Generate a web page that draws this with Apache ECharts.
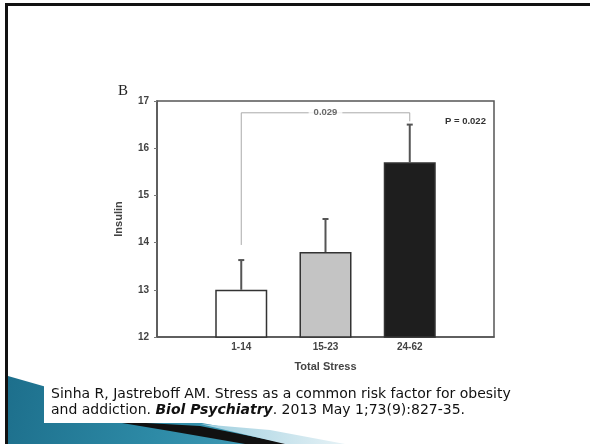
<!DOCTYPE html>
<html>
<head>
<meta charset="utf-8">
<script src="https://cdn.jsdelivr.net/npm/echarts@6/dist/echarts.min.js"></script>
<style>
  html, body { margin: 0; padding: 0; background: #fff; }
  #chart { width: 590px; height: 444px; }
</style>
</head>
<body>
<div id="chart"></div>
<script>
const categories = ['1-14', '15-23', '24-62'];
const insulin = [13.0, 13.8, 15.7];
const errors = [0.63, 0.7, 0.8];
const barColors = ['#ffffff', '#c4c4c4', '#1e1e1e'];
// significance bracket between group 1 and group 3
const bracket = [[1, 13.95], [1, 16.75], [3, 16.75], [3, 16.57]];
const bracketLabel = '0.029';
const pLabel = 'P = 0.022';

const chart = echarts.init(document.getElementById('chart'));

const barData = insulin.map((v, i) => ({
  value: [i + 1, v],
  itemStyle: { color: barColors[i] }
}));
const errData = insulin.map((v, i) => [i + 1, v, v + errors[i]]);

const option = {
  animation: false,
  backgroundColor: '#fff',
  grid: {
    left: 157, right: 96, top: 101, bottom: 107,
    show: true, borderColor: '#555', borderWidth: 1.5, backgroundColor: 'transparent'
  },
  xAxis: {
    type: 'value',
    min: 0, max: 4, interval: 1,
    name: 'Total Stress',
    nameLocation: 'middle',
    nameGap: 24,
    nameTextStyle: { fontFamily: 'Liberation Sans', fontWeight: 'bold', fontSize: 11, color: '#444' },
    axisLine: { show: true, lineStyle: { color: '#555', width: 1.5 } },
    axisTick: { show: false },
    splitLine: { show: false },
    axisLabel: {
      margin: 5,
      fontFamily: 'Liberation Sans', fontWeight: 'bold', fontSize: 10, color: '#444',
      formatter: (v) => categories[v - 1] || ''
    }
  },
  yAxis: {
    type: 'value',
    min: 12, max: 17, interval: 1,
    name: 'Insulin',
    nameLocation: 'middle',
    nameGap: 33,
    nameTextStyle: { fontFamily: 'Liberation Sans', fontWeight: 'bold', fontSize: 11, color: '#444' },
    axisLine: { show: true, lineStyle: { color: '#555', width: 1.5 } },
    axisTick: { show: true, length: 3, lineStyle: { color: '#777' } },
    splitLine: { show: false },
    axisLabel: { margin: 8, fontFamily: 'Liberation Sans', fontWeight: 'bold', fontSize: 10, color: '#444' }
  },
  graphic: [
    { type: 'rect', shape: { x: 5, y: 3, width: 590, height: 3 }, style: { fill: '#111' }, z: 100 },
    { type: 'rect', shape: { x: 5, y: 3, width: 3, height: 450 }, style: { fill: '#111' }, z: 100 },
    {
      type: 'polygon', z: 90,
      shape: { points: [[8, 376], [120, 408], [240, 430], [310, 444], [8, 444]] },
      style: {
        fill: new echarts.graphic.LinearGradient(0, 0, 1, 1, [
          { offset: 0, color: '#1d6f8c' },
          { offset: 0.5, color: '#2d8aa6' },
          { offset: 1, color: '#4aa3bd' }
        ])
      }
    },
    {
      type: 'polygon', z: 91,
      shape: { points: [[110, 421], [200, 426], [290, 444], [245, 444], [170, 431]] },
      style: { fill: '#111' }
    },
    {
      type: 'polygon', z: 91,
      shape: { points: [[200, 424], [270, 430], [345, 444], [285, 444]] },
      style: {
        fill: new echarts.graphic.LinearGradient(0, 0, 1, 0, [
          { offset: 0, color: '#9fcfdf' },
          { offset: 1, color: '#e6f2f6' }
        ])
      }
    },
    { type: 'rect', z: 95, shape: { x: 44, y: 385, width: 500, height: 38 }, style: { fill: '#fff' } },
    {
      type: 'text', z: 96, left: 51, top: 387,
      style: {
        text: 'Sinha R, Jastreboff AM. Stress as a common risk factor for obesity',
        font: '14px "DejaVu Sans"', fill: '#111'
      }
    },
    {
      type: 'text', z: 96, left: 51, top: 403,
      style: {
        text: 'and addiction. {b|Biol Psychiatry}. 2013 May 1;73(9):827-35.',
        font: '14px "DejaVu Sans"', fill: '#111',
        rich: { b: { fontFamily: 'DejaVu Sans', fontSize: 14, fontWeight: 'bold', fontStyle: 'italic', fill: '#111' } }
      }
    },
    {
      type: 'text', left: 118, top: 84,
      style: { text: 'B', font: '15px "Liberation Serif"', fill: '#222' }
    },
    {
      type: 'text', left: 445, top: 116,
      style: { text: pLabel, font: 'bold 9.5px "Liberation Sans"', fill: '#333' }
    }
  ],
  series: [
    {
      type: 'bar',
      data: barData,
      barWidth: 52,
      itemStyle: { borderColor: '#333', borderWidth: 1.5 },
      z: 2
    },
    {
      type: 'custom',
      data: errData,
      z: 3,
      renderItem: (params, api) => {
        const base = api.coord([api.value(0), api.value(1)]);
        const top = api.coord([api.value(0), api.value(2)]);
        return {
          type: 'group',
          children: [
            { type: 'line', shape: { x1: base[0], y1: base[1], x2: top[0], y2: top[1] }, style: { stroke: '#555', lineWidth: 2 } },
            { type: 'line', shape: { x1: top[0] - 3, y1: top[1], x2: top[0] + 3, y2: top[1] }, style: { stroke: '#555', lineWidth: 2 } }
          ]
        };
      }
    },
    {
      type: 'line',
      data: bracket,
      symbol: 'none',
      lineStyle: { color: '#aaa', width: 1 },
      z: 1
    },
    {
      type: 'scatter',
      data: [[2, bracket[1][1]]],
      symbolSize: 0,
      z: 4,
      label: {
        show: true, position: 'inside', formatter: bracketLabel,
        backgroundColor: '#fff', padding: [1, 5],
        fontFamily: 'Liberation Sans', fontWeight: 'bold', fontSize: 9.5, color: '#444'
      }
    }
  ]
};

chart.setOption(option);
</script>
</body>
</html>
